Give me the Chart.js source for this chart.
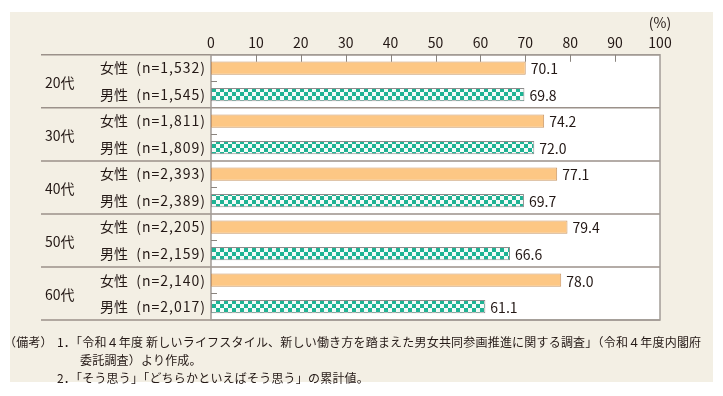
<!DOCTYPE html>
<html lang="ja">
<head>
<meta charset="utf-8">
<script src="https://cdn.jsdelivr.net/npm/chart.js@4/dist/chart.umd.min.js"></script>
<style>
  body { margin: 0; background: #ffffff; }
  #wrap { position: relative; width: 723px; height: 396px; }
  #panel { position: absolute; left: 10px; top: 12px; width: 703px; height: 370px; background: #f3efe4; }
  #myChart { position: absolute; left: 0; top: 0; }
  .note { position: absolute; font-family: "Noto Sans CJK JP", sans-serif; font-size: 12px; letter-spacing: 0.2px; color: #231815; white-space: nowrap; line-height: 18px; }
</style>
</head>
<body>
<div id="wrap">
  <div id="panel"></div>
  <canvas id="myChart" width="723" height="396"></canvas>
  <div class="note" style="left:4px; top:333px;">（備考）</div>
  <div class="note" style="left:57px; top:333px;">1．</div>
  <div class="note" style="left:70px; top:333px;">「令和４年度 新しいライフスタイル、新しい働き方を踏まえた男女共同参画推進に関する調査」（令和４年度内閣府</div>
  <div class="note" style="left:80px; top:351px;">委託調査）より作成。</div>
  <div class="note" style="left:57px; top:369px;">2．</div>
  <div class="note" style="left:70px; top:369px;">「そう思う」「どちらかといえばそう思う」の累計値。</div>
</div>
<script>
// データ
let ageGroups = ["20代", "30代", "40代", "50代", "60代"];
let femaleN = ["1,532", "1,811", "2,393", "2,205", "2,140"];
let maleN = ["1,545", "1,809", "2,389", "2,159", "2,017"];
let femaleValues = [70.1, 74.2, 77.1, 79.4, 78.0];
let maleValues = [69.8, 72.0, 69.7, 66.6, 61.1];
let xTicks = [0, 10, 20, 30, 40, 50, 60, 70, 80, 90, 100];

let fontFamily = '"Noto Sans CJK JP", "Noto Sans", sans-serif';
let textColor = "#231815";
let lineColor = "#9b918a";

// 男性用の市松模様
function makeChecker() {
  const c = document.createElement("canvas");
  c.width = 8;
  c.height = 8;
  const g = c.getContext("2d");
  g.fillStyle = "#1fb394";
  g.fillRect(0, 0, 8, 8);
  g.fillStyle = "#f4fbf9";
  g.fillRect(0, 0, 4, 4);
  g.fillRect(4, 4, 4, 4);
  return g.createPattern(c, "repeat");
}

// 枠線・区切り線・ラベル描画
const sidePlugin = {
  id: "side",
  beforeDatasetsDraw(chart) {
    const { ctx, chartArea: a } = chart;
    const h = (a.bottom - a.top) / ageGroups.length;
    ctx.save();
    ctx.fillStyle = "#ffffff";
    ctx.fillRect(a.left, a.top, a.right - a.left, a.bottom - a.top);
    ctx.strokeStyle = lineColor;
    ctx.lineWidth = 1.5;
    for (let k = 0; k <= ageGroups.length; k++) {
      const yy = a.top + k * h;
      ctx.beginPath();
      ctx.moveTo(41, yy);
      ctx.lineTo(a.right, yy);
      ctx.stroke();
    }
    ctx.strokeStyle = "#a29c96";
    ctx.strokeRect(a.left, a.top, a.right - a.left, a.bottom - a.top);
    // 目盛り
    ctx.lineWidth = 1;
    ctx.strokeStyle = "#8a847e";
    const x = chart.scales.x;
    xTicks.slice(1, -1).forEach((v) => {
      const px = Math.round(x.getPixelForValue(v)) + 0.5;
      ctx.beginPath();
      ctx.moveTo(px, a.top);
      ctx.lineTo(px, a.top + 7);
      ctx.stroke();
    });
    const y = chart.scales.y;
    ageGroups.forEach((g, i) => {
      const py = Math.round(y.getPixelForValue(i)) + 0.5;
      ctx.beginPath();
      ctx.moveTo(a.left, py);
      ctx.lineTo(a.left + 6, py);
      ctx.stroke();
    });
    ctx.restore();
  },
  afterDatasetsDraw(chart) {
    const { ctx, chartArea: a } = chart;
    const h = (a.bottom - a.top) / ageGroups.length;
    const y = chart.scales.y;
    ctx.save();
    ctx.fillStyle = textColor;
    ctx.textBaseline = "middle";
    // 値ラベル
    ctx.font = "14px " + fontFamily;
    ctx.textAlign = "left";
    chart.data.datasets.forEach((ds, di) => {
      chart.getDatasetMeta(di).data.forEach((el, i) => {
        ctx.fillText(ds.data[i].toFixed(1), el.x + 5, el.y + 1);
      });
    });
    // 左側ラベル
    ageGroups.forEach((g, i) => {
      const cy = y.getPixelForValue(i);
      ctx.font = "14px " + fontFamily;
      ctx.textAlign = "left";
      ctx.letterSpacing = "0px";
      ctx.fillText(g, 45, cy + 1);
      ctx.fillText("女性", 100, cy - h / 4);
      ctx.fillText("男性", 100, cy + h / 4);
      ctx.textAlign = "right";
      ctx.letterSpacing = "1px";
      ctx.fillText("(n=" + femaleN[i] + ")", 206, cy - h / 4);
      ctx.fillText("(n=" + maleN[i] + ")", 206, cy + h / 4);
    });
    ctx.letterSpacing = "0px";
    // 単位
    ctx.textAlign = "center";
    ctx.font = "14px " + fontFamily;
    ctx.fillText("(%)", a.right, 23);
    ctx.restore();
  },
};

window.onload = function () {
  const checker = makeChecker();
  let config = {
    type: "bar",
    data: {
      labels: ageGroups,
      datasets: [
        {
          label: "女性",
          data: femaleValues,
          backgroundColor: "#fdc784",
          borderColor: "#c99868",
          borderWidth: 1,
          borderSkipped: false,
          categoryPercentage: 1.0,
          barPercentage: 0.5,
        },
        {
          label: "男性",
          data: maleValues,
          backgroundColor: checker,
          borderColor: "#8c8c8c",
          borderWidth: 1,
          borderSkipped: false,
          categoryPercentage: 1.0,
          barPercentage: 0.5,
        },
      ],
    },
    options: {
      indexAxis: "y",
      responsive: false,
      animation: false,
      devicePixelRatio: 1,
      layout: {
        padding: { left: 211, right: 63, top: 30, bottom: 76 },
      },
      plugins: {
        legend: { display: false },
        tooltip: { enabled: false },
      },
      scales: {
        x: {
          position: "top",
          min: 0,
          max: 100,
          afterBuildTicks: (axis) => {
            axis.ticks = xTicks.map((v) => ({ value: v }));
          },
          grid: { display: false, drawTicks: false },
          border: { display: false },
          ticks: {
            padding: 4,
            color: textColor,
            font: { size: 14, family: fontFamily },
          },
        },
        y: {
          display: false,
          offset: true,
        },
      },
    },
    plugins: [sidePlugin],
  };
  let ctx = document.getElementById("myChart").getContext("2d");
  window.myBar = new Chart(ctx, config);
};
</script>
</body>
</html>
